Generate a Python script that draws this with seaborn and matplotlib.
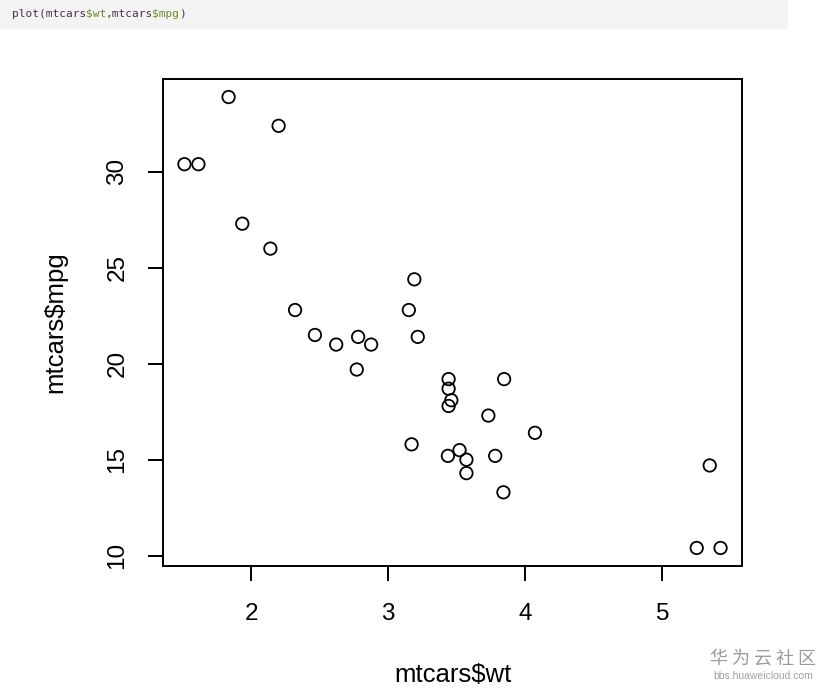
import matplotlib
matplotlib.use("Agg")
import matplotlib.pyplot as plt
import seaborn as sns
import pandas as pd

# mtcars: weight (1000 lbs) and miles per gallon
wt = [2.620, 2.875, 2.320, 3.215, 3.440, 3.460, 3.570, 3.190, 3.150, 3.440, 3.440,
      4.070, 3.730, 3.780, 5.250, 5.424, 5.345, 2.200, 1.615, 1.835, 2.465, 3.520,
      3.435, 3.840, 3.845, 1.935, 2.140, 1.513, 3.170, 2.770, 3.570, 2.780]
mpg = [21.0, 21.0, 22.8, 21.4, 18.7, 18.1, 14.3, 24.4, 22.8, 19.2, 17.8,
       16.4, 17.3, 15.2, 10.4, 10.4, 14.7, 32.4, 30.4, 33.9, 21.5, 15.5,
       15.2, 13.3, 19.2, 27.3, 26.0, 30.4, 15.8, 19.7, 15.0, 21.4]
x_ticks = [2, 3, 4, 5]
y_ticks = [10, 15, 20, 25, 30]

df = pd.DataFrame({"wt": wt, "mpg": mpg})

sns.set_style("white")
plt.rcParams['font.family'] = ['Liberation Sans', 'DejaVu Sans']

fig = plt.figure(figsize=(8.32, 6.89), dpi=100)
top, bottom = 79, 566
ax = fig.add_axes([163 / 832, 1 - bottom / 689, (742 - 163) / 832, (bottom - top) / 689])

sns.scatterplot(data=df, x="wt", y="mpg", ax=ax, marker="o", s=80,
                facecolor="none", edgecolor="black", linewidth=1.3)

# R-style 4% padding around the data range
xr = max(wt) - min(wt)
yr = max(mpg) - min(mpg)
ax.set_xlim(min(wt) - 0.04 * xr, max(wt) + 0.04 * xr)
ax.set_ylim(min(mpg) - 0.04 * yr, max(mpg) + 0.04 * yr)
ax.set_xticks(x_ticks)
ax.set_yticks(y_ticks)

for s in ax.spines.values():
    s.set_visible(True)
    s.set_color("black")
    s.set_linewidth(1.4)

ax.tick_params(axis="both", direction="out", length=11, width=1.4, colors="black",
               labelsize=17.5, pad=16, bottom=True, left=True)
ax.tick_params(axis="y", labelrotation=90, pad=14)
for lab in ax.get_yticklabels():
    lab.set_va("center")

h = bottom - top
ax.set_xlabel("mtcars$wt", fontsize=18.5, color="black", va="center")
ax.xaxis.set_label_coords(0.5, (bottom - 675) / h)
ax.set_ylabel("mtcars$mpg", fontsize=18.5, color="black", va="center")
ax.yaxis.set_label_coords((55 - 163) / 579, 0.5)

# code snippet header
fig.patches.append(plt.Rectangle((0, 1 - 28 / 689), 787 / 832, 28 / 689,
                                 transform=fig.transFigure, color="#f3f3f3", zorder=0))
code = [("plot(mtcars", "#4a2f4a"), ("$wt", "#6f8a2a"), (",mtcars", "#4a2f4a"),
        ("$mpg", "#6f8a2a"), (")", "#4a2f4a")]
fs_code = 8
cw = 0.602 * fs_code * 100 / 72
x0 = 12
for txt, col in code:
    fig.text(x0 / 832, 1 - 14 / 689, txt, color=col, fontsize=fs_code,
             family="DejaVu Sans Mono", va="center", ha="left")
    x0 += cw * len(txt)

# watermark
fig.text(763 / 832, 1 - 659 / 689, "华 为 云 社 区", color="#9a9a9a", fontsize=13,
         family=["Noto Sans CJK SC", "DejaVu Sans"], ha="center", va="center")
fig.text(763 / 832, 1 - 676 / 689, "bbs.huaweicloud.com", color="#a0a0a0", fontsize=7.5,
         ha="center", va="center")

fig.savefig("out.png", dpi=100)
